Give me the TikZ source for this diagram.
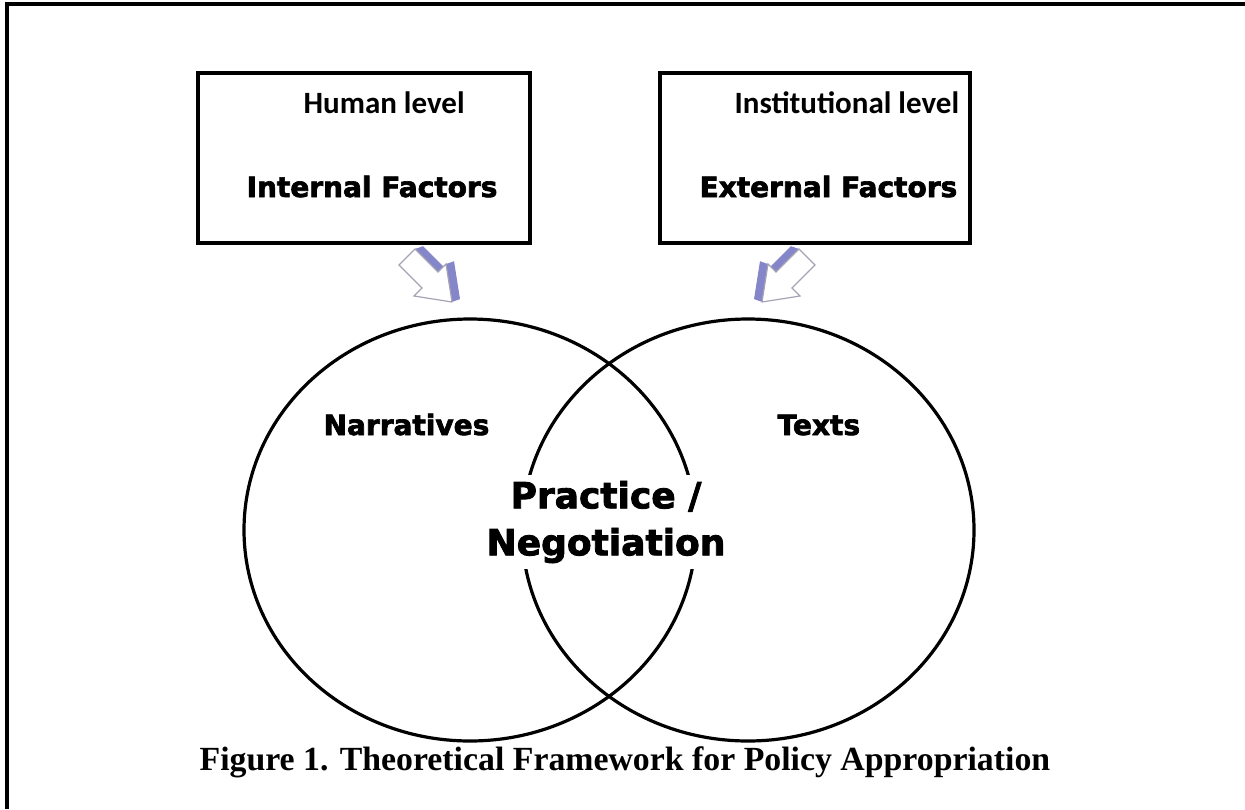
\documentclass[tikz,border=0pt]{standalone}
\usepackage{fontspec}
\setmainfont{Liberation Serif}
\newfontfamily\levelfont{Carlito}
\newfontfamily\heavyfont{DejaVu Sans}[BoldFeatures={FakeBold=2.4}]
\definecolor{arrowblue}{HTML}{8585CA}
\definecolor{arrowedge}{HTML}{A4A4B4}
\tikzset{every path/.style={line width=1.6pt},
  levelbox/.style={draw, minimum height=85pt, inner sep=0pt},
  level/.style={font=\levelfont\bfseries\fontsize{15.5}{18}\selectfont, inner sep=0pt, anchor=base west},
  factor/.style={font=\heavyfont\bfseries\fontsize{14}{16}\selectfont, inner sep=0pt, anchor=base west},
  practice/.style={font=\heavyfont\bfseries\fontsize{18}{23.5}\selectfont, align=center, fill=white, inner xsep=2pt, inner ysep=3pt},
  caption/.style={font=\bfseries\fontsize{16.9}{18}\selectfont, inner sep=0pt, anchor=base west},
  blockarrow/.pic={
    \foreach \s in {0.5,1,...,8}
      \fill[arrowblue, shift={(\s,-0.35*\s)}] (-53,-37) -- (-37,-53) -- (-14,-30) -- (-6,-38) -- (0,0) -- (-38,-6) -- (-30,-14) -- cycle;
    \filldraw[fill=white, draw=arrowedge, line width=0.6pt] (-53,-37) -- (-37,-53) -- (-14,-30) -- (-6,-38) -- (0,0) -- (-38,-6) -- (-30,-14) -- cycle;
  }}

\begin{document}
\begin{tikzpicture}[x=0.5pt, y=-0.5pt]
  \useasboundingbox (0,0) rectangle (1245,809);
  % frame
  \draw (7,809) -- (7,4) -- (1245,4);

  % the two levels
  \node[levelbox, minimum width=166pt] (hbox) at (364,158) {};
  \node[levelbox, minimum width=155pt] (ibox) at (815,158) {};
  \node[level] (human) at (302,113) {Human level};
  \node[level] (inst) at (733,113) {Institutional level};
  \node[factor] (internal) at (245,197) {Internal Factors};
  \node[factor] (external) at (698,197) {External Factors};

  \pic at (452,302) {blockarrow};
  \pic[xscale=-1] at (762,302) {blockarrow};

  % overlapping circles
  \draw (470,530) ellipse [x radius=226, y radius=211];
  \draw (748,530) ellipse [x radius=226, y radius=211];
  \node[factor] (narr) at (322,435) {Narratives};
  \node[factor] (texts) at (776,435) {Texts};
  \node[practice] (prac) at (606,522) {Practice /\\Negotiation};

  \node[caption] (cap) at (198,770) {Figure 1. Theoretical Framework for Policy Appropriation};
\end{tikzpicture}
\end{document}
